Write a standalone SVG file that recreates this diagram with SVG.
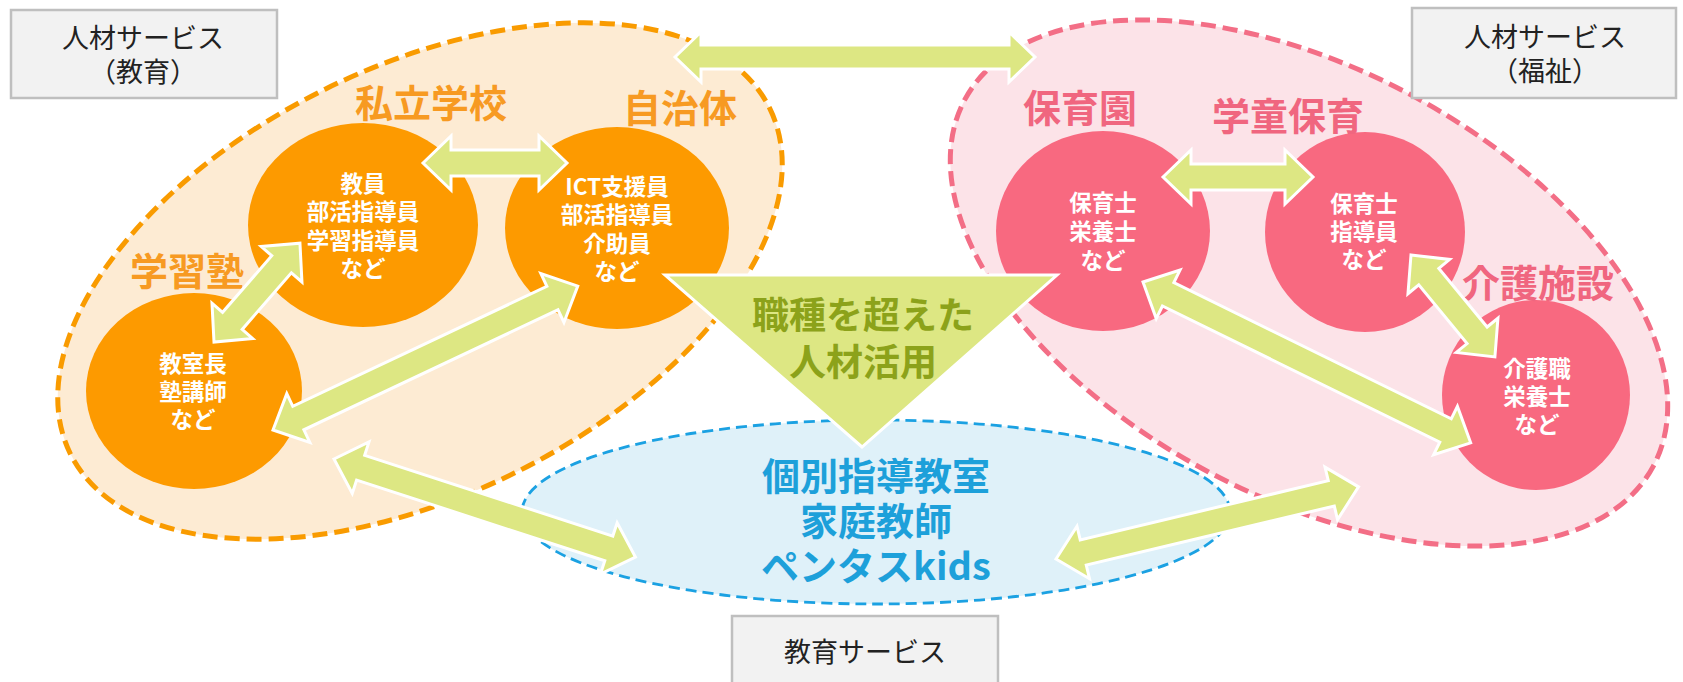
<svg xmlns="http://www.w3.org/2000/svg" width="1683" height="682" viewBox="0 0 1683 682">
<style>
text{font-family:"Noto Sans CJK JP","Noto Sans CJK SC",sans-serif;text-anchor:middle;dominant-baseline:central}
.box{fill:#F2F2F2;stroke:#BFBFBF;stroke-width:2.5}
.boxt{font-size:27px;fill:#222;font-weight:400}
.oreg{fill:#FDEBD3;stroke:#F99B00;stroke-width:5;stroke-dasharray:15 7}
.preg{fill:#FCE3E8;stroke:#F36E86;stroke-width:5;stroke-dasharray:15 7}
.breg{fill:#DFF1F9;stroke:#1BA1E2;stroke-width:2.8;stroke-dasharray:11 6}
.oc{fill:#FD9A00}
.pc{fill:#F86980}
.ct{font-size:22.5px;fill:#fff;font-weight:700}
.ol{font-size:38px;fill:#F79A22;font-weight:700}
.pl{font-size:38px;fill:#F0667F;font-weight:700}
.bt{font-size:38px;fill:#1DA0DA;font-weight:700}
.tri{fill:#DDE783;stroke:#fff;stroke-width:3}
.tt{font-size:37px;fill:#8CA21A;font-weight:700}
.arr{fill:#DDE783;stroke:#fff;stroke-width:3;stroke-linejoin:miter}
</style>

<g id="region-education">
<ellipse class="oreg" cx="420" cy="281" rx="390" ry="214" transform="rotate(-26.3 420 281)"/>
</g>
<g id="region-welfare">
<ellipse class="preg" cx="1309" cy="283" rx="390" ry="214" transform="rotate(28 1309 283)"/>
</g>
<g id="node-eduservice-area">
<ellipse class="breg" cx="876" cy="512" rx="354" ry="92"/>
<text class="bt"><tspan x="876" y="473">個別指導教室</tspan><tspan x="876" y="518">家庭教師</tspan><tspan x="876" y="563">ペンタスkids</tspan></text>
</g>

<g id="box-education">
<rect class="box" x="11" y="10" width="266" height="88"/>
<text class="boxt"><tspan x="143" y="36">人材サービス</tspan><tspan x="143" y="70">（教育）</tspan></text>
</g>
<g id="box-welfare">
<rect class="box" x="1412" y="8" width="264" height="90"/>
<text class="boxt"><tspan x="1545" y="35">人材サービス</tspan><tspan x="1545" y="69">（福祉）</tspan></text>
</g>
<g id="box-eduservice">
<rect class="box" x="732" y="616" width="266" height="80"/>
<text class="boxt" x="865" y="650">教育サービス</text>
</g>

<g id="node-private-school">
<ellipse class="oc" cx="363" cy="225" rx="115" ry="102"/>
<text class="ct"><tspan x="363" y="182">教員</tspan><tspan x="363" y="210">部活指導員</tspan><tspan x="363" y="239">学習指導員</tspan><tspan x="363" y="267">など</tspan></text>
<text class="ol" x="431" y="100">私立学校</text>
</g>
<g id="node-municipality">
<ellipse class="oc" cx="617" cy="228" rx="112" ry="101"/>
<text class="ct"><tspan x="617" y="185">ICT支援員</tspan><tspan x="617" y="213">部活指導員</tspan><tspan x="617" y="242">介助員</tspan><tspan x="617" y="270">など</tspan></text>
<text class="ol" x="680" y="105">自治体</text>
</g>
<g id="node-cram-school">
<ellipse class="oc" cx="194" cy="391" rx="108" ry="98"/>
<text class="ct"><tspan x="193" y="362">教室長</tspan><tspan x="193" y="390">塾講師</tspan><tspan x="193" y="418">など</tspan></text>
<text class="ol" x="187" y="268">学習塾</text>
</g>
<g id="node-nursery">
<ellipse class="pc" cx="1103" cy="231" rx="107" ry="100"/>
<text class="ct"><tspan x="1103" y="201">保育士</tspan><tspan x="1103" y="230">栄養士</tspan><tspan x="1103" y="259">など</tspan></text>
<text class="pl" x="1080" y="105">保育園</text>
</g>
<g id="node-afterschool">
<ellipse class="pc" cx="1365" cy="232" rx="100" ry="100"/>
<text class="ct"><tspan x="1364" y="202">保育士</tspan><tspan x="1364" y="230">指導員</tspan><tspan x="1364" y="258">など</tspan></text>
<text class="pl" x="1288" y="113">学童保育</text>
</g>
<g id="node-care">
<ellipse class="pc" cx="1536" cy="395" rx="94" ry="95"/>
<text class="ct"><tspan x="1537" y="367">介護職</tspan><tspan x="1537" y="395">栄養士</tspan><tspan x="1537" y="423">など</tspan></text>
<text class="pl" x="1538" y="280">介護施設</text>
</g>
<g id="node-crossover">
<polygon class="tri" points="665,275 1057,275 862,447"/>
<text class="tt"><tspan x="863" y="313">職種を超えた</tspan><tspan x="863" y="360">人材活用</tspan></text>
</g>

<g id="connectors">
<path class="arr" transform="translate(675,57)" d="M0,0 L26,-25 L26,-12 L334,-12 L334,-25 L360,0 L334,25 L334,12 L26,12 L26,25 Z"/>
<path class="arr" transform="translate(423,163)" d="M0,0 L28,-27 L28,-13 L116,-13 L116,-27 L144,0 L116,27 L116,13 L28,13 L28,27 Z"/>
<path class="arr" transform="translate(214,342) rotate(-49)" d="M0,0 L28,-27 L28,-13 L103,-13 L103,-27 L131,0 L103,27 L103,13 L28,13 L28,27 Z"/>
<path class="arr" transform="translate(273,430) rotate(-25.27)" d="M0,0 L28,-27 L28,-13 L309,-13 L309,-27 L337,0 L309,27 L309,13 L28,13 L28,27 Z"/>
<path class="arr" transform="translate(334,459) rotate(18.03)" d="M0,0 L28,-27 L28,-13 L289,-13 L289,-27 L317,0 L289,27 L289,13 L28,13 L28,27 Z"/>
<path class="arr" transform="translate(1163,177)" d="M0,0 L28,-27 L28,-13 L122,-13 L122,-27 L150,0 L122,27 L122,13 L28,13 L28,27 Z"/>
<path class="arr" transform="translate(1411,255) rotate(50.53)" d="M0,0 L28,-27 L28,-13 L104,-13 L104,-27 L132,0 L104,27 L104,13 L28,13 L28,27 Z"/>
<path class="arr" transform="translate(1143,282) rotate(26.14)" d="M0,0 L28,-27 L28,-13 L337,-13 L337,-27 L365,0 L337,27 L337,13 L28,13 L28,27 Z"/>
<path class="arr" transform="translate(1056,559) rotate(-13.41)" d="M0,0 L28,-27 L28,-13 L283,-13 L283,-27 L311,0 L283,27 L283,13 L28,13 L28,27 Z"/>
</g>
</svg>
